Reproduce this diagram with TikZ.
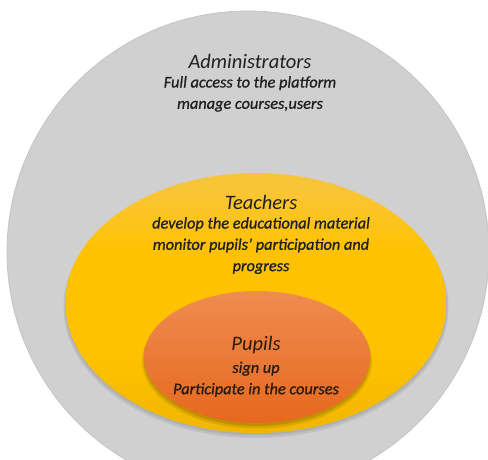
\documentclass[tikz,border=0pt]{standalone}
\usepackage{fontspec}
\setmainfont{Carlito}
\newfontfamily\semibfont{Carlito}[FakeBold=0.9]
\usetikzlibrary{shapes.geometric}
\definecolor{admgray}{HTML}{D0D0D0}
\definecolor{admedge}{HTML}{C4C4C4}
\definecolor{teachtop}{HTML}{F9C538}
\definecolor{teachmid}{HTML}{FFC200}
\definecolor{teachbot}{HTML}{F0B600}
\definecolor{puptop}{HTML}{EF8C50}
\definecolor{pupmid}{HTML}{F07B30}
\definecolor{pupbot}{HTML}{E6681E}
\definecolor{txt}{HTML}{202020}
\definecolor{puptxt}{HTML}{2A1A10}
\pgfdeclareverticalshading{teachshade}{100bp}{
  color(0bp)=(teachbot); color(25bp)=(teachbot); color(40bp)=(teachmid);
  color(60bp)=(teachmid); color(72bp)=(teachtop); color(100bp)=(teachtop)}
\tikzset{
  title/.style={font=\itshape\fontsize{20.5}{24}\selectfont, text=txt, inner sep=0pt},
  body/.style={font=\semibfont\itshape\fontsize{16.3}{21.3}\selectfont, text=txt, align=center, inner sep=0pt},
  blob/.style={ellipse, inner sep=0pt, draw=none},
  softshadow/.style={ellipse, inner sep=0pt, draw=none, fill=black, fill opacity=0.08},
}
\begin{document}
\begin{tikzpicture}[x=1pt,y=-1pt]
\useasboundingbox (0,0) rectangle (488,460);
\clip (0,0) rectangle (488,460);
\node[circle, minimum size=482pt, inner sep=0pt, fill=admgray, draw=admedge, line width=0.8pt] (admin) at (248,252) {};
% soft shadow of the teachers ellipse
\node[softshadow, minimum width=385pt, minimum height=262pt] (tsh1) at (256,307) {};
\node[softshadow, minimum width=382pt, minimum height=260pt] (tsh2) at (256,305.5) {};
\node[blob, minimum width=381pt, minimum height=260pt, shading=teachshade] (teach) at (256,303) {};
% soft shadow of the pupils ellipse
\node[softshadow, minimum width=230pt, minimum height=135pt, fill opacity=0.1] (psh1) at (257,361) {};
\node[softshadow, minimum width=227pt, minimum height=133pt, fill opacity=0.12] (psh2) at (257,359.5) {};
\node[blob, minimum width=226pt, minimum height=132pt, top color=puptop, middle color=pupmid, bottom color=pupbot] (pupil) at (257,357) {};
\node[title] (admT) at (250,61) {Administrators};
\node[body, anchor=north] (admB) at (250,76) {Full access to the platform\\manage courses,users};
\node[title] (teaT) at (261,202) {Teachers};
\node[body, anchor=north] (teaB) at (261,217) {develop the educational material\\monitor pupils’ participation and\\progress};
\node[title, text=puptxt] (pupT) at (256,345) {Pupils};
\node[body, text=puptxt, anchor=north] (pupB) at (256,361.5) {sign up\\Participate in the courses};
\end{tikzpicture}
\end{document}
